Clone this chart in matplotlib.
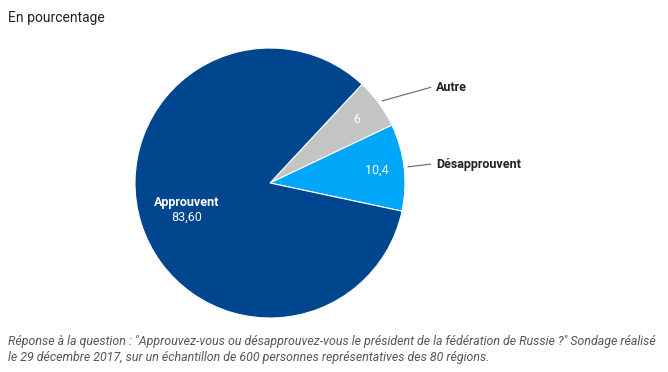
import numpy as np
import matplotlib.pyplot as plt

plt.rcParams['font.family'] = ['Roboto', 'DejaVu Sans']

categories = ['Autre', 'Désapprouvent', 'Approuvent']
values = [6, 10.4, 83.6]
value_labels = ['6', '10,4', '83,60']
colors = ['#C4C4C4', '#00A6F8', '#00468F']

fig = plt.figure(figsize=(6.68, 3.72), dpi=100)
ax = fig.add_axes([135 / 668, 54 / 372, 270 / 668, 270 / 372])

wedges, _ = ax.pie(values, colors=colors, startangle=47, counterclock=False,
                   wedgeprops=dict(edgecolor='white', linewidth=0.8))
ax.set_xlim(-1, 1)
ax.set_ylim(-1, 1)
ax.set_aspect('equal')
ax.axis('off')

for w, cat, lab in zip(wedges, categories, value_labels):
    mid = np.deg2rad((w.theta1 + w.theta2) / 2)
    if cat == 'Approuvent':
        r = 0.65
        x, y = r * np.cos(mid), r * np.sin(mid)
        ax.text(x, y + 0.05, cat, color='white', ha='center', va='center',
                fontsize=9, fontweight='bold')
        ax.text(x, y - 0.06, lab, color='white', ha='center', va='center',
                fontsize=9)
    else:
        r = 0.80
        ax.text(r * np.cos(mid), r * np.sin(mid), lab, color='white',
                ha='center', va='center', fontsize=9)
        x0, y0 = 1.03 * np.cos(mid), 1.03 * np.sin(mid)
        y1 = y0 + 0.1 if cat == 'Autre' else y0 + 0.02
        ax.plot([x0, 1.19], [y0, y1], color='#666666', lw=0.8, clip_on=False)
        ax.text(1.23, y1, cat, ha='left', va='center', fontsize=9,
                fontweight='bold', color='#222222')

fig.text(8 / 668, 1 - 18 / 372, 'En pourcentage', fontsize=10, color='#222222',
         ha='left', va='center')
fig.text(8 / 668, 1 - 350 / 372,
         'Réponse à la question : "Approuvez-vous ou désapprouvez-vous le président de la fédération de Russie ?" Sondage réalisé\n'
         'le 29 décembre 2017, sur un échantillon de 600 personnes représentatives des 80 régions.',
         fontsize=8.9, style='italic', color='#555555', ha='left', va='center', linespacing=1.3)

fig.savefig('out.png', dpi=100)
plt.close()
